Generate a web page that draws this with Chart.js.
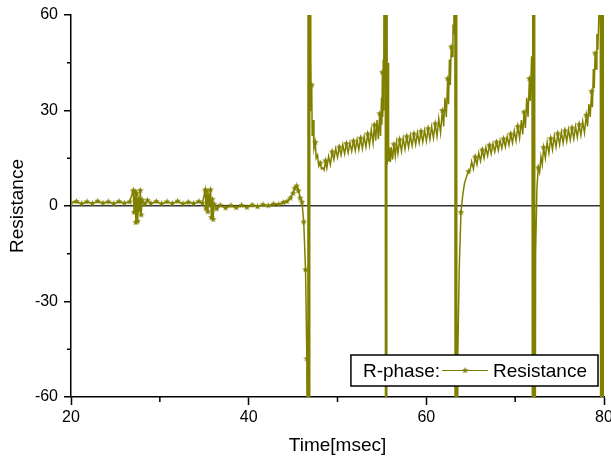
<!DOCTYPE html>
<html lang="en">
<head>
    <meta charset="UTF-8">
    <title>R-phase Resistance</title>
    <style>
        body {
            margin: 0;
            background-color: #ffffff;
        }

        #wrap {
            position: relative;
            width: 611px;
            height: 461px;
        }
    </style>
</head>
<body>
    <div id="wrap"><canvas id="resistanceChart"></canvas></div>

    <script src="https://cdn.jsdelivr.net/npm/chart.js"></script>
    <script>
        // time axis in msec (±200 = spikes running off the scale)
        const timeMs = [
            20.0, 20.6, 21.2, 21.8, 22.4, 23.0, 23.6, 24.2, 24.8, 25.4, 26.0, 26.6,
            27.0, 27.1, 27.2, 27.3, 27.4, 27.5, 27.6, 27.7, 27.8, 27.9, 28.0, 28.3, 28.6,
            29.0, 29.6, 30.2, 30.8, 31.4, 32.0, 32.6, 33.2, 33.8, 34.4, 34.8,
            35.1, 35.2, 35.3, 35.4, 35.5, 35.6, 35.7, 35.8, 35.9, 36.0, 36.1, 36.4, 36.8,
            37.4, 38.0, 38.6, 39.2, 39.8, 40.4, 41.0, 41.6, 42.2, 42.8, 43.4, 43.9, 44.3,
            44.7, 45.0, 45.2, 45.4, 45.6, 45.8, 46.0, 46.2, 46.4, 46.55,
            46.65, 46.7, 46.75, 46.8, 46.85, 46.9,
            47.0, 47.05, 47.1, 47.15, 47.25, 47.35, 47.5, 47.6, 47.75, 47.9, 48.05, 48.2, 48.35, 48.5,
            48.65, 48.8, 49.0, 49.2, 49.4, 49.6, 49.8, 50.0, 50.2, 50.4, 50.6, 50.8, 51.0, 51.2,
            51.4, 51.6, 51.8, 52.0, 52.2, 52.4, 52.6, 52.8, 53.0, 53.2, 53.4, 53.6, 53.8, 54.0,
            54.15, 54.3, 54.45, 54.6, 54.75, 54.85, 54.95, 55.0, 55.05, 55.1, 55.15, 55.2,
            55.35, 55.4, 55.45, 55.5, 55.55, 55.6, 55.7, 55.75,
            55.85, 55.95, 56.05, 56.2, 56.35, 56.5, 56.65, 56.8, 57.0, 57.2, 57.4, 57.6, 57.8,
            58.0, 58.2, 58.4, 58.6, 58.8, 59.0, 59.2, 59.4, 59.6, 59.8, 60.0, 60.2, 60.4, 60.6,
            60.8, 61.0, 61.2, 61.4, 61.6, 61.8, 61.95, 62.1, 62.25, 62.4, 62.5, 62.6, 62.7,
            62.8, 62.9, 63.0, 63.1, 63.2, 63.25, 63.3, 63.35, 63.4, 63.45,
            63.55, 63.7, 63.9, 64.1, 64.3, 64.5, 64.75, 64.95,
            65.1, 65.3, 65.5, 65.7, 65.9, 66.1, 66.3, 66.5, 66.7, 66.9, 67.1, 67.3, 67.5, 67.7,
            67.9, 68.1, 68.3, 68.5, 68.7, 68.9, 69.1, 69.3, 69.5, 69.7, 69.9, 70.1, 70.3, 70.5,
            70.7, 70.85, 71.0, 71.15, 71.3, 71.45, 71.6, 71.7, 71.85, 71.9,
            71.95, 72.0, 72.05, 72.1, 72.15, 72.2, 72.3, 72.45, 72.6, 72.75, 72.9,
            73.05, 73.2, 73.4, 73.6, 73.8, 74.0, 74.2, 74.4, 74.6, 74.8, 75.0, 75.2, 75.4, 75.6,
            75.8, 76.0, 76.2, 76.4, 76.6, 76.8, 77.0, 77.2, 77.4, 77.6, 77.8, 78.0, 78.15, 78.3,
            78.45, 78.6, 78.7, 78.8, 78.9, 79.0, 79.1, 79.2, 79.3, 79.45,
            79.55, 79.65, 79.75, 79.85, 79.9, 79.95
        ];

        const resistance = [
            1.0, 1.4, 0.7, 1.3, 0.8, 1.5, 0.9, 1.3, 0.7, 1.4, 0.9, 1.3,
            4.8, -2.0, 4.6, -5.2, 3.9, -4.8, 2.2, -1.5, 4.9, -2.8, 1.9, 0.6, 1.8,
            0.8, 1.4, 0.7, 1.3, 0.8, 1.5, 0.7, 1.2, 0.8, 1.4, 0.9,
            5.0, -0.8, 4.7, -1.8, 3.4, 0.3, 5.1, -3.6, 2.1, -4.2, 0.6, -0.9, 0.2,
            -0.6, 0.1, -0.5, 0.2, -0.4, 0.3, -0.2, 0.4, 0.1, 0.6, 0.5, 1.1, 1.4,
            2.5, 4.0, 5.6, 6.3, 4.8, 2.5, 1.2, -5.0, -20.0, -48.0,
            -200, 200, -200, 200, -200, 200,
            45.0, 30.0, 38.0, 22.0, 27.0, 18.0, 20.0, 15.0, 16.0, 12.5, 13.5, 11.6, 12.0, 11.3,
            14.2, 11.9, 15.6, 13.0, 17.0, 14.6, 18.0, 15.3, 18.5, 16.0, 19.2, 16.4, 19.6, 16.7,
            19.9, 17.2, 20.4, 17.4, 20.8, 17.7, 21.3, 18.0, 21.8, 18.5, 22.6, 19.1, 24.0, 19.8,
            25.5, 20.5, 27.0, 21.0, 29.0, 22.0, 34.0, 25.5, 42.0, 28.0, 46.0, 30.0,
            200, -200, 200, -200, 200, 13.0, 45.0, 14.0,
            17.5, 13.8, 18.5, 14.6, 19.4, 15.7, 20.0, 16.5, 20.8, 17.2, 21.3, 17.9, 21.8,
            18.4, 22.2, 18.9, 22.6, 19.3, 23.0, 19.8, 23.4, 20.1, 23.8, 20.4, 24.3, 20.9, 24.9,
            21.3, 25.8, 21.9, 27.5, 23.0, 30.0, 25.0, 34.0, 28.0, 40.0, 32.0, 46.0, 38.0,
            50.0, 47.0, 57.0, 54.0, 200, -200, 200, -200, 200, -200,
            -46.0, -20.0, -2.0, 3.5, 7.2, 9.0, 10.8, 11.6,
            14.0, 11.6, 15.4, 13.0, 16.6, 14.1, 17.6, 15.0, 18.4, 15.8, 19.1, 16.4, 19.6, 17.0,
            20.1, 17.5, 20.6, 18.1, 21.1, 18.6, 21.8, 19.1, 22.6, 19.8, 23.6, 20.5, 25.0, 21.3,
            27.0, 22.5, 29.5, 24.5, 34.0, 28.0, 40.0, 33.0, 47.0, 39.0,
            200, -200, 200, -200, 200, -200, -15.0, 5.7, 12.0, 10.5, 15.5,
            13.0, 18.4, 15.0, 20.0, 16.6, 21.2, 17.7, 22.0, 18.5, 22.7, 19.3, 23.2, 19.8, 23.6,
            20.3, 24.0, 20.7, 24.5, 21.1, 25.0, 21.6, 25.6, 22.2, 26.6, 23.0, 28.5, 25.0, 32.0,
            28.0, 36.0, 31.0, 43.0, 37.0, 48.0, 43.0, 54.0, 49.0, 62.0,
            200, -200, 200, -200, 200, -200
        ];

        const yTicks = [-60, -30, 0, 30, 60];
        const xTicks = [20, 40, 60, 80];

        const olive = '#808000';

        // small filled five-point star used as marker
        function makeStar(size) {
            const c = document.createElement('canvas');
            c.width = size;
            c.height = size;
            const g = c.getContext('2d');
            const cx = size / 2, cy = size / 2, ro = size / 2, ri = ro * 0.45;
            g.beginPath();
            for (let i = 0; i < 10; i++) {
                const r = i % 2 === 0 ? ro : ri;
                const a = -Math.PI / 2 + i * Math.PI / 5;
                g.lineTo(cx + r * Math.cos(a), cy + r * Math.sin(a));
            }
            g.closePath();
            g.fillStyle = olive;
            g.fill();
            return c;
        }
        const star = makeStar(7);

        const minorTicks = {
            id: 'minorTicks',
            afterDraw(chart) {
                const ctx = chart.ctx;
                const xs = chart.scales.x, ys = chart.scales.y;
                ctx.save();
                ctx.strokeStyle = '#000';
                ctx.lineWidth = 1.5;
                ctx.beginPath();
                for (let v = 30; v < 80; v += 20) {
                    const px = xs.getPixelForValue(v);
                    ctx.moveTo(px, ys.bottom);
                    ctx.lineTo(px, ys.bottom + 5);
                }
                for (let v = -45; v < 60; v += 30) {
                    const py = ys.getPixelForValue(v);
                    ctx.moveTo(xs.left, py);
                    ctx.lineTo(xs.left - 4, py);
                }
                ctx.stroke();
                ctx.restore();
            }
        };

        const boxLegend = {
            id: 'boxLegend',
            afterDraw(chart) {
                const ctx = chart.ctx;
                const area = chart.chartArea;
                const label = chart.data.datasets[0].label;
                ctx.save();
                ctx.font = '19px "Liberation Sans", Arial, sans-serif';
                const w1 = ctx.measureText('R-phase:').width;
                const w2 = ctx.measureText(label).width;
                const lineLen = 46;
                const boxW = 12 + w1 + 2 + lineLen + 5 + w2 + 11;
                const boxH = 31;
                const right = area.right - 6;
                const bottom = area.bottom - 11;
                const left = right - boxW;
                const top = bottom - boxH;
                ctx.fillStyle = '#fff';
                ctx.fillRect(left, top, boxW, boxH);
                ctx.strokeStyle = '#000';
                ctx.lineWidth = 1.5;
                ctx.strokeRect(left, top, boxW, boxH);
                const cy = top + boxH / 2;
                ctx.fillStyle = '#000';
                ctx.textBaseline = 'middle';
                ctx.fillText('R-phase:', left + 12, cy + 1);
                const lx = left + 12 + w1 + 2;
                ctx.strokeStyle = olive;
                ctx.lineWidth = 1;
                ctx.beginPath();
                ctx.moveTo(lx, cy);
                ctx.lineTo(lx + lineLen, cy);
                ctx.stroke();
                ctx.drawImage(star, lx + lineLen / 2 - star.width / 2, cy - star.height / 2);
                ctx.fillText(label, lx + lineLen + 5, cy + 1);
                ctx.restore();
            }
        };

        const points = timeMs.map((t, i) => ({ x: t, y: resistance[i] }));

        const chart = new Chart(document.getElementById('resistanceChart').getContext('2d'), {
            type: 'line',
            data: {
                datasets: [{
                    label: 'Resistance',
                    data: points,
                    borderColor: olive,
                    borderWidth: 1.5,
                    pointStyle: star,
                    // markers on every sample in the quiet part, sparser in the noisy part
                    pointRadius: ctx => {
                        const p = ctx.raw;
                        if (!p) return 0;
                        if (p.x < 46.6) return 3;
                        return ctx.index % 4 === 0 ? 3 : 0;
                    },
                    tension: 0,
                    fill: false
                }]
            },
            options: {
                responsive: true,
                maintainAspectRatio: false,
                animation: false,
                layout: { padding: { top: 15, right: 7, bottom: 0, left: 0 } },
                plugins: {
                    legend: { display: false },
                    tooltip: { enabled: false }
                },
                scales: {
                    x: {
                        type: 'linear',
                        min: 20,
                        max: 80,
                        afterBuildTicks: s => { s.ticks = xTicks.map(v => ({ value: v })); },
                        afterFit: s => { s.height = 64; s.paddingLeft = 0; s.paddingRight = 0; },
                        grid: { drawOnChartArea: false, tickLength: 8, tickColor: '#000', tickWidth: 1.5 },
                        border: { color: '#000', width: 1.5 },
                        ticks: {
                            color: '#000',
                            padding: 3,
                            maxRotation: 0,
                            font: { family: '"Liberation Sans", Arial, sans-serif', size: 16 }
                        },
                        title: {
                            display: true,
                            text: 'Time[msec]',
                            color: '#000',
                            padding: { bottom: 4 },
                            font: { family: '"Liberation Sans", Arial, sans-serif', size: 19 }
                        }
                    },
                    y: {
                        min: -60,
                        max: 60,
                        afterBuildTicks: s => { s.ticks = yTicks.map(v => ({ value: v })); },
                        afterFit: s => { s.width = 71; s.paddingTop = 0; s.paddingBottom = 0; },
                        grid: {
                            color: c => (c.tick && c.tick.value === 0 ? '#333' : 'rgba(0,0,0,0)'),
                            lineWidth: 1.5,
                            tickLength: 7,
                            tickColor: '#000',
                            tickWidth: 1.5
                        },
                        border: { color: '#000', width: 1.5 },
                        ticks: {
                            color: '#000',
                            padding: 6,
                            font: { family: '"Liberation Sans", Arial, sans-serif', size: 16 }
                        },
                        title: {
                            display: true,
                            text: 'Resistance',
                            color: '#000',
                            padding: { top: 6 },
                            font: { family: '"Liberation Sans", Arial, sans-serif', size: 19 }
                        }
                    }
                }
            },
            plugins: [minorTicks, boxLegend]
        });
    </script>
</body>
</html>
